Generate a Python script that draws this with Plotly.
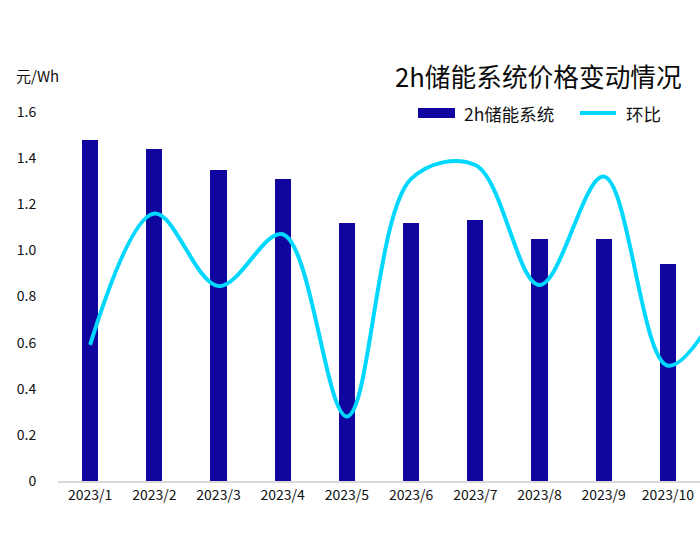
import plotly.graph_objects as go

categories = ["2023/1", "2023/2", "2023/3", "2023/4", "2023/5", "2023/6",
              "2023/7", "2023/8", "2023/9", "2023/10", "2023/11"]
price = [1.48, 1.44, 1.35, 1.31, 1.12, 1.12, 1.13, 1.05, 1.05, 0.94, None]
ratio = [0.59, 1.16, 0.845, 1.07, 0.28, 1.31, 1.37, 0.85, 1.32, 0.50, 0.85]
y_ticks = [0, 0.2, 0.4, 0.6, 0.8, 1.0, 1.2, 1.4, 1.6]
y_labels = ["0", "0.2", "0.4", "0.6", "0.8", "1.0", "1.2", "1.4", "1.6"]

BAR = "#10069F"
LINE = "#00D7FF"
FONT = "Noto Sans CJK SC"
TXT = "#111111"

W, H = 700, 550
# plot area in screen pixels: x 58..700, y 112..481
L, R, T = 58, 0, 112
B = H - 481
pw, ph = W - L - R, H - T - B

def px(x):
    return (x - L) / pw

def py(y):
    return (H - B - y) / ph

fig = go.Figure()
fig.add_trace(go.Bar(x=categories, y=price, name="2h储能系统",
                     marker=dict(color=BAR, line=dict(width=0)), width=0.25))
fig.add_trace(go.Scatter(x=categories, y=ratio, name="环比", mode="lines",
                         line=dict(color=LINE, width=4, shape="spline", smoothing=1.0)))

fig.update_layout(
    width=W, height=H,
    margin=dict(l=L, r=R, t=T, b=B),
    plot_bgcolor="white", paper_bgcolor="white",
    showlegend=False,
    font=dict(family=FONT, size=14, color=TXT),
    xaxis=dict(type="category", range=[-0.5, 9.5], showgrid=False,
               showline=True, linecolor="#D9D9D9", linewidth=2,
               ticks="", tickfont=dict(size=14, color=TXT)),
    yaxis=dict(range=[0, 1.6], tickvals=y_ticks, ticktext=y_labels,
               showgrid=False, zeroline=False, showline=False,
               ticks="outside", ticklen=18, tickcolor="rgba(0,0,0,0)",
               tickfont=dict(size=14, color=TXT)),
    bargap=0,
)

# unit label
fig.add_annotation(text="元/Wh", xref="paper", yref="paper",
                   x=px(14), y=py(76), xanchor="left", yanchor="middle",
                   showarrow=False, font=dict(size=15, color=TXT, family=FONT))
# title
fig.add_annotation(text="2h储能系统价格变动情况", xref="paper", yref="paper",
                   x=px(684), y=py(75), xanchor="right", yanchor="middle",
                   showarrow=False, font=dict(size=25.7, color="#0a0a0a", family=FONT))
# legend
fig.add_shape(type="rect", xref="paper", yref="paper",
              x0=px(418), x1=px(455), y0=py(118), y1=py(108),
              fillcolor=BAR, line=dict(width=0))
fig.add_annotation(text="2h储能系统", xref="paper", yref="paper",
                   x=px(462), y=py(113), xanchor="left", yanchor="middle",
                   showarrow=False, font=dict(size=17.5, color=TXT, family=FONT))
fig.add_shape(type="line", xref="paper", yref="paper",
              x0=px(580), x1=px(616), y0=py(113), y1=py(113),
              line=dict(color=LINE, width=4))
fig.add_annotation(text="环比", xref="paper", yref="paper",
                   x=px(624), y=py(113), xanchor="left", yanchor="middle",
                   showarrow=False, font=dict(size=17.5, color=TXT, family=FONT))

fig.write_html("out.html", config={"displayModeBar": False},
               post_script="document.body.style.margin='0';")
